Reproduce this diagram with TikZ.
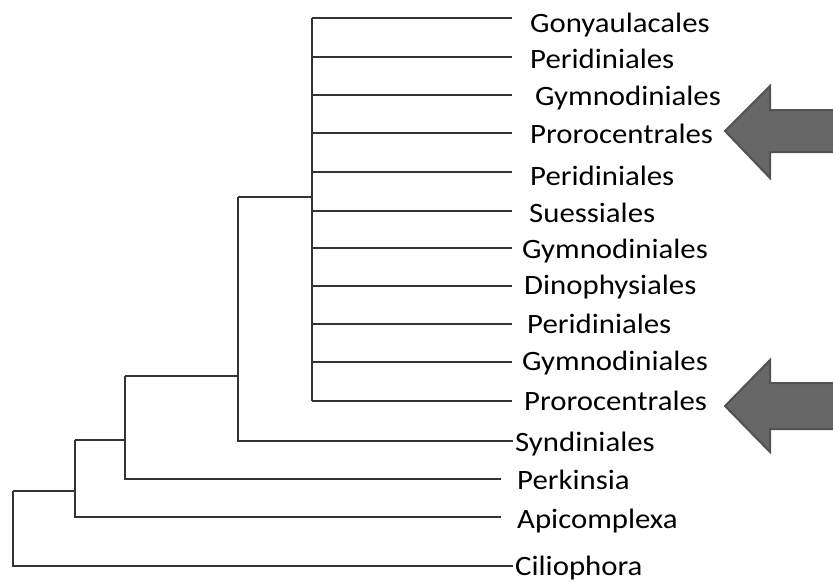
\documentclass[tikz,border=0pt]{standalone}
\usepackage{fontspec}
\setmainfont{Carlito}[FakeStretch=1.1]
\begin{document}
\begin{tikzpicture}[x=1pt,y=-1pt,
  branch/.style={line width=2pt,draw=black!80},
  lab/.style={anchor=base west,inner sep=0pt,font=\fontsize{28}{30}\selectfont,text=black},
  bigarrow/.style={fill=black!60,draw=black!68,line width=2pt,line join=miter}]
\useasboundingbox (0,0) rectangle (833,582);
% internal nodes
\coordinate (r0) at (13,491);
\coordinate (r1) at (75,440);
\coordinate (r2) at (125,376);
\coordinate (r3) at (238,197);
\coordinate (r4) at (312,18);
% leaf line ends
\coordinate (e1) at (512,18);
\coordinate (e2) at (512,57);
\coordinate (e3) at (512,95);
\coordinate (e4) at (512,133);
\coordinate (e5) at (512,172);
\coordinate (e6) at (512,211);
\coordinate (e7) at (512,248);
\coordinate (e8) at (512,286);
\coordinate (e9) at (512,324);
\coordinate (e10) at (512,362);
\coordinate (e11) at (512,401);
\coordinate (e12) at (513,441);
\coordinate (e13) at (501,479);
\coordinate (e14) at (501,517);
\coordinate (e15) at (513,566);
% labels
\node[lab] (l1) at (530,32) {Gonyaulacales};
\node[lab] (l2) at (530,68) {Peridiniales};
\node[lab] (l3) at (535,105) {Gymnodiniales};
\node[lab] (l4) at (530,143) {Prorocentrales};
\node[lab] (l5) at (530,185) {Peridiniales};
\node[lab] (l6) at (529,222) {Suessiales};
\node[lab] (l7) at (522,258) {Gymnodiniales};
\node[lab] (l8) at (524,294) {Dinophysiales};
\node[lab] (l9) at (527,333) {Peridiniales};
\node[lab] (l10) at (522,370) {Gymnodiniales};
\node[lab] (l11) at (524,410) {Prorocentrales};
\node[lab] (l12) at (515,451) {Syndiniales};
\node[lab] (l13) at (517,489) {Perkinsia};
\node[lab] (l14) at (517,528) {Apicomplexa};
\node[lab] (l15) at (515,575) {Ciliophora};
% tree
\foreach \i in {1,...,11} \draw[branch] (r4 |- e\i) -- (e\i);
\draw[branch] (r4) -- (r4 |- e11);
\draw[branch] (r3) -- (r4 |- r3);
\draw[branch] (r3) |- (e12);
\draw[branch] (r2) -- (r3 |- r2);
\draw[branch] (r2) |- (e13);
\draw[branch] (r1) -- (r2 |- r1);
\draw[branch] (r1) |- (e14);
\draw[branch] (r0) -- (r1 |- r0);
\draw[branch] (r0) |- (e15);
% arrows
\draw[bigarrow] (725,131) -- (770,86) -- (770,110) -- (840,110) -- (840,152) -- (770,152) -- (770,178) -- cycle;
\draw[bigarrow] (725,406) -- (770,360) -- (770,383) -- (840,383) -- (840,429) -- (770,429) -- (770,452) -- cycle;
\end{tikzpicture}
\end{document}
